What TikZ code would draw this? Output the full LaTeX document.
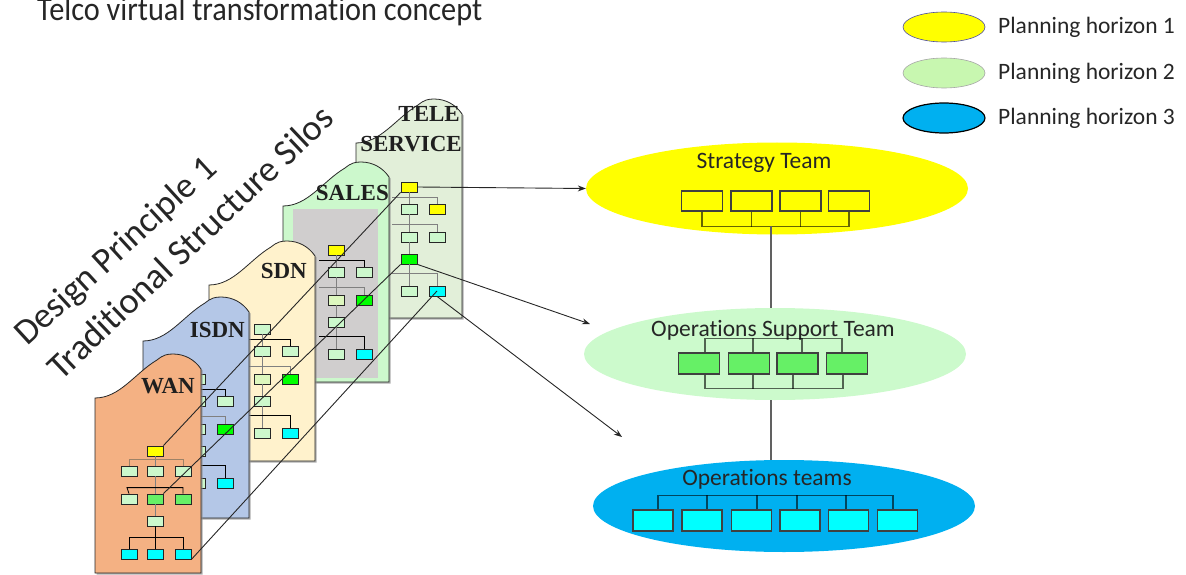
\documentclass[tikz,border=0pt]{standalone}
\usepackage{fontspec}
\setmainfont{Carlito}[Ligatures=NoCommon]
\newfontfamily\silofont{Liberation Serif}
\usetikzlibrary{shapes.geometric,arrows.meta,shadows,calc}

% silo and box colours
\definecolor{wanc}{HTML}{F4B183}
\definecolor{isdnc}{HTML}{B4C7E7}
\definecolor{sdnc}{HTML}{FFF2CC}
\definecolor{salesc}{HTML}{CCF8CC}
\definecolor{salesin}{HTML}{D0CECE}
\definecolor{telec}{HTML}{E2EFD9}
\definecolor{pale}{HTML}{CCF8CC}
\definecolor{paley}{HTML}{DDF7BE}
\definecolor{brightg}{HTML}{00FF00}
\definecolor{midg}{HTML}{66F066}
\definecolor{cyanbox}{HTML}{00FFFF}
\definecolor{ybox}{HTML}{FFFF00}
\definecolor{opsg}{HTML}{CCFACC}
\definecolor{opsb}{HTML}{00B0F0}
\definecolor{legg}{HTML}{C8F7B0}
\definecolor{txt}{HTML}{262626}

\tikzset{
  silo/.style={draw=black!85, line width=0.8pt,
    drop shadow={shadow xshift=1.5pt, shadow yshift=-1.5pt, fill=black!45, opacity=.7}},
  obox/.style={draw=black!85, line width=0.8pt, minimum width=16pt,
    minimum height=10pt, inner sep=0pt},
  orgbar/.style={draw=black!50, line width=1pt},
  orgdark/.style={draw=black, line width=0.8pt},
  silolabel/.style={font=\silofont\bfseries\fontsize{23}{26}\selectfont,
    text=black!88, inner sep=0pt},
  team/.style={ellipse, minimum width=382pt, minimum height=92pt, inner sep=0pt},
  bigbox/.style={draw=black!75, line width=1.3pt, minimum width=41pt,
    minimum height=20pt, inner sep=0pt},
  inner/.style={draw=black, draw opacity=.6, line width=1.3pt},
  stem/.style={draw=black!62, line width=1.3pt},
  feed/.style={draw=black!85, line width=0.9pt,
    -{Stealth[length=8pt,width=6pt]}},
  cross/.style={draw=black!85, line width=0.9pt},
  label/.style={font=\fontsize{23.5}{28}\selectfont, text=txt, inner sep=0pt},
  legell/.style={ellipse, minimum width=82pt, minimum height=30pt, inner sep=0pt},
}

% silo outline: left edge x, top-left corner y, height below that corner, fill
\newcommand\siloshape[4]{%
  \begin{scope}[shift={(#1,#2)}]
    \filldraw[silo, fill=#4] (0,#3) -- (0,0)
      .. controls (25,0) and (40,-25) .. (62,-38)
      .. controls (68,-43) and (72,-44) .. (78,-44)
      .. controls (90,-44) and (100,-38) .. (106,-29)
      -- (106,#3) -- cycle;
  \end{scope}}

% two-column org chart: prefix, left x, top y, box colours, bar style
\newcommand\siloorg[9]{%
  \node[obox, fill=#4] (#1a) at (#2+53,#3+44) {};
  \node[obox, fill=pale] (#1b) at (#2+53,#3+66) {};
  \node[obox, fill=#5] (#1c) at (#2+81,#3+66) {};
  \node[obox, fill=#6] (#1d) at (#2+53,#3+94) {};
  \node[obox, fill=#7] (#1e) at (#2+81,#3+94) {};
  \node[obox, fill=#8] (#1f) at (#2+53,#3+116) {};
  \node[obox, fill=pale] (#1g) at (#2+53,#3+148) {};
  \node[obox, fill=cyanbox] (#1h) at (#2+81,#3+148) {};
  \draw[orgbar] (#1a.south) -- (#1b.north);
  \draw[#9] ([xshift=-17pt,yshift=6pt]#1b.north) -- ([yshift=6pt]#1c.north) -- (#1c.north);
  \draw[orgbar] (#1b.south) -- (#1d.north);
  \draw[orgbar] ([xshift=-17pt,yshift=7pt]#1d.north) -- ([yshift=7pt]#1e.north) -- (#1e.north);
  \draw[orgbar] (#1d.south) -- (#1f.north);
  \draw[orgbar] (#1f.south) -- (#1g.north);
  \draw[#9] ([xshift=-17pt,yshift=12pt]#1g.north) -- ([yshift=12pt]#1h.north) -- (#1h.north);
}

\begin{document}
\begin{tikzpicture}[x=1pt,y=-1pt]
\useasboundingbox (0,0) rectangle (1186,575);

% title (its top runs off the page edge)
\node[anchor=base west, inner sep=0pt, font=\fontsize{33.5}{38}\selectfont, text=txt]
  (title) at (37,21) {\scalebox{0.905}[1]{Telco virtual transformation concept}};

% legend
\node[legell, fill=ybox, draw=blue!50!black!70, line width=0.6pt] (leg1) at (944,27) {};
\node[legell, fill=legg, draw=black!35, line width=0.6pt] (leg2) at (944,73) {};
\node[legell, fill=opsb, draw=black, line width=1.2pt] (leg3) at (944,118) {};
\node[label, anchor=base west] (legt1) at (998,34) {Planning horizon 1};
\node[label, anchor=base west] (legt2) at (998,80) {Planning horizon 2};
\node[label, anchor=base west] (legt3) at (998,125) {Planning horizon 3};

% heading along the silos
\node[anchor=base west, inner sep=0pt, rotate=42.5, font=\fontsize{36}{40}\selectfont, text=txt]
  (dp) at (27,347) {Design Principle 1};
\node[anchor=base west, inner sep=0pt, rotate=43.5, font=\fontsize{36.5}{40}\selectfont, text=txt]
  (tss) at (61,382) {Traditional Structure Silos};

% TELE SERVICE silo
\siloshape{356}{143}{175}{telec}
\siloorg{tele}{356}{143}{ybox}{ybox}{pale}{pale}{brightg}{orgbar}
\node[silolabel, anchor=base east] (telelbl) at (460,122) {TELE};
\node[silolabel, anchor=base east] (servlbl) at (462,152) {SERVICE};

% SALES silo
\siloshape{283}{206}{176}{salesc}
\fill[salesin] (293,209) rectangle (378,378);
\siloorg{sales}{283}{206}{ybox}{pale}{paley}{brightg}{pale}{orgdark}
\node[silolabel, anchor=base east] (saleslbl) at (389,200) {SALES};

% SDN silo
\siloshape{209}{285}{176}{sdnc}
\siloorg{sdn}{209}{285}{pale}{pale}{paley}{brightg}{pale}{orgdark}
\node[silolabel, anchor=base east] (sdnlbl) at (307,278) {SDN};

% ISDN silo
\siloshape{143}{341}{177}{isdnc}
\siloorg{isdn}{144}{335}{pale}{pale}{pale}{brightg}{pale}{orgdark}
\node[silolabel, anchor=base east] (isdnlbl) at (245,337) {ISDN};

% WAN silo, three-column chart
\siloshape{95}{398}{175}{wanc}
\node[silolabel, anchor=base east] (wanlbl) at (195,393) {WAN};
\node[obox, fill=ybox] (wanY) at (155,451) {};
\node[obox, fill=pale] (wanB1) at (129,471) {};
\node[obox, fill=pale] (wanB2) at (155,471) {};
\node[obox, fill=pale] (wanB3) at (183,471) {};
\node[obox, fill=pale] (wanC1) at (129,499) {};
\node[obox, fill=midg] (wanG) at (155,499) {};
\node[obox, fill=midg] (wanG3) at (183,499) {};
\node[obox, fill=pale] (wanD) at (155,521) {};
\node[obox, fill=cyanbox] (wanE1) at (129,554) {};
\node[obox, fill=cyanbox] (wanE2) at (155,554) {};
\node[obox, fill=cyanbox] (wanC3) at (183,554) {};
\draw[orgbar] (wanY.south) -- (wanB2.north);
\draw[orgbar, draw=brown!60!black!70] (wanB1.north) -- ([yshift=6pt]wanB1.north)
  -- ([yshift=6pt]wanB3.north) -- (wanB3.north);
\draw[orgbar] (wanB2.south) -- (wanG.north);
\draw[orgdark] (wanC1.north) -- ([xshift=-2pt,yshift=6pt]wanC1.north)
  -- ([yshift=6pt]wanG3.north) -- (wanG3.north);
\draw[orgbar] (wanG.south) -- (wanD.north);
\draw[orgdark] (wanD.south) -- (wanE2.north);
\draw[orgdark] (wanE1.north) -- ([yshift=11pt]wanE1.north)
  -- ([yshift=11pt]wanC3.north) -- (wanC3.north);

% team ellipses
\node[team, fill=ybox] (strat) at (777,188.5) {};
\node[team, fill=opsg] (opsS) at (775,354) {};
\node[team, fill=opsb] (opsT) at (784,506) {};

% strategy team
\node[label, anchor=base] (stratlbl) at (764,168) {Strategy Team};
\foreach \i/\x in {1/702,2/751.5,3/800.5,4/849}
  \node[bigbox, fill=ybox] (sb\i) at (\x,201) {};
\draw[inner] (sb1.south) -- ([yshift=-15pt]sb1.south) -- ([yshift=-15pt]sb4.south) -- (sb4.south);
\draw[inner] (sb2.south) -- ([yshift=-15pt]sb2.south);
\draw[inner] (sb3.south) -- ([yshift=-15pt]sb3.south);
\coordinate (sj) at (771,226);

% operations support team
\node[label, anchor=base] (opslbl) at (773,336) {Operations Support Team};
\foreach \i/\x in {1/699,2/749,3/797.5,4/847}
  \node[bigbox, fill=midg, minimum height=21pt] (ob\i) at (\x,363.5) {};
\draw[inner] ([xshift=6pt]ob1.north) -- ([xshift=6pt,yshift=14pt]ob1.north)
  -- ([xshift=-5pt,yshift=14pt]ob4.north) -- ([xshift=-5pt]ob4.north);
\draw[inner] ([xshift=4pt]ob2.north) -- ([xshift=4pt,yshift=14pt]ob2.north);
\draw[inner] ([xshift=4.5pt]ob3.north) -- ([xshift=4.5pt,yshift=14pt]ob3.north);
\draw[inner] ([xshift=6pt]ob1.south) -- ([xshift=6pt,yshift=-14pt]ob1.south)
  -- ([xshift=-4pt,yshift=-14pt]ob4.south) -- ([xshift=-4pt]ob4.south);
\draw[inner] ([xshift=4pt]ob2.south) -- ([xshift=4pt,yshift=-14pt]ob2.south);
\draw[inner] ([xshift=-4.5pt]ob3.south) -- ([xshift=-4.5pt,yshift=-14pt]ob3.south);

% operations teams
\node[label, anchor=base] (teamslbl) at (767,485) {Operations teams};
\foreach \i/\x in {1/653,2/702,3/751.5,4/800,5/848.5,6/897.5}
  \node[bigbox, fill=cyanbox, minimum width=40pt, minimum height=21pt] (tb\i) at (\x,520.5) {};
\draw[inner] ([xshift=5pt]tb1.north) -- ([xshift=5pt,yshift=14pt]tb1.north)
  -- ([xshift=-4.5pt,yshift=14pt]tb6.north) -- ([xshift=-4.5pt]tb6.north);
\foreach \i/\s in {2/5,3/5.5,4/-3,5/-2.5}
  \draw[inner] ([xshift=\s pt]tb\i.north) -- ([xshift=\s pt,yshift=14pt]tb\i.north);

% links between the team levels
\draw[stem] (sj) -- (sj |- opsS.north);
\draw[stem] (sj |- opsS.south) -- (sj |- opsT.north);

% planning threads across the silos
\coordinate (tipB) at (590,324);
\coordinate (tipC) at (622,437);
\draw[cross] (wanY.north east) -- (telea.south west);
\draw[cross] (wanG.north east) -- (telef.south west);
\draw[cross] (wanC3.south east) -- (teleh.center);
\draw[feed] (telea.east) -- (strat.west);
\draw[feed] (telef.south east) -- (tipB);
\draw[feed] (teleh.south) -- (tipC);
\end{tikzpicture}
\end{document}
